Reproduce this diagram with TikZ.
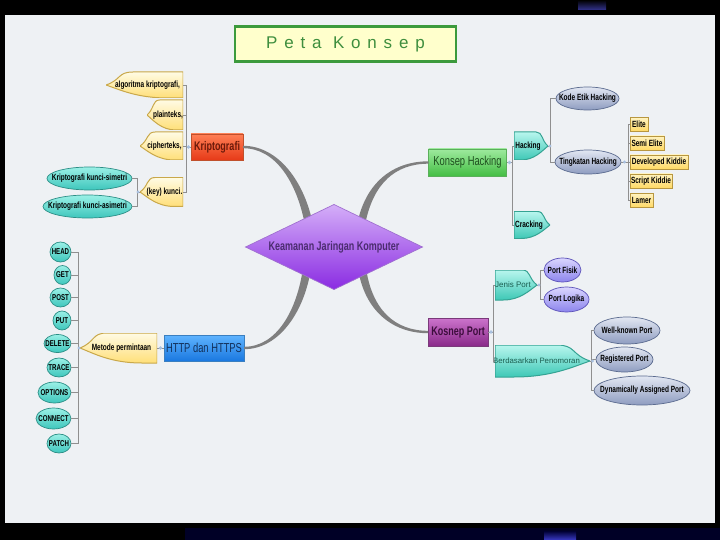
\documentclass[tikz,border=0pt]{standalone}
\usepackage{fontspec}
\setmainfont{Liberation Sans}
\newfontfamily\condfont[FakeStretch=0.72]{Liberation Sans}
\newfontfamily\titlefont[LetterSpace=40]{Liberation Sans}
\usetikzlibrary{shapes.geometric,calc}
\newcommand\ppbb{path picture bounding box}
\definecolor{panel}{HTML}{EEF1F4}
\definecolor{titlefill}{HTML}{FFFFCC}
\definecolor{titleb}{HTML}{3C9A3C}
\definecolor{titletext}{HTML}{3E8E3E}
\definecolor{branchc}{HTML}{7F7F7F}
\definecolor{brc}{HTML}{8F8F8F}
\definecolor{dotblue}{HTML}{A9C1E0}
\definecolor{teal1}{HTML}{9AF0E6}\definecolor{teal2}{HTML}{3EC6BC}\definecolor{tealb}{HTML}{2C8E86}
\definecolor{gray1}{HTML}{E2E7F2}\definecolor{gray2}{HTML}{8E9CC0}\definecolor{grayb}{HTML}{5B6B8F}
\definecolor{lav1}{HTML}{DAD6FF}\definecolor{lav2}{HTML}{8C84EC}\definecolor{lavb}{HTML}{5C52B8}
\definecolor{yl1}{HTML}{FFFBE4}\definecolor{yl2}{HTML}{FFDF78}\definecolor{ylb}{HTML}{C9A84A}
\definecolor{yb1}{HTML}{FFF3C0}\definecolor{yb2}{HTML}{FFD964}\definecolor{ybb}{HTML}{B89740}
\definecolor{cl1}{HTML}{B8F6EE}\definecolor{cl2}{HTML}{3EC8B6}\definecolor{clb}{HTML}{35A393}
\definecolor{krip1}{HTML}{FF7F55}\definecolor{krip2}{HTML}{E63A18}\definecolor{kripb}{HTML}{C0502C}\definecolor{kript}{HTML}{6B1A0A}
\definecolor{hack1}{HTML}{9EEA9E}\definecolor{hack2}{HTML}{44BE44}\definecolor{hackb}{HTML}{5AAF5A}\definecolor{hackt}{HTML}{1F4F1F}
\definecolor{http1}{HTML}{5FB4FF}\definecolor{http2}{HTML}{1A78E0}\definecolor{httpb}{HTML}{3A7FC0}\definecolor{httpt}{HTML}{12305A}
\definecolor{port1}{HTML}{CC74CC}\definecolor{port2}{HTML}{8A2A8A}\definecolor{portb}{HTML}{7A3A7A}\definecolor{portt}{HTML}{3D0D3D}
\definecolor{dia1}{HTML}{D4AEF8}\definecolor{dia2}{HTML}{8A2BE2}\definecolor{diab}{HTML}{A070D0}\definecolor{diat}{HTML}{4B2C6F}
\definecolor{leaftext}{HTML}{1B5E50}
\begin{document}
\begin{tikzpicture}[x=1pt,y=-1pt,
 zw/.style={execute at begin node={\hbox to 0pt\bgroup\hss}, execute at end node={\hss\egroup}},
 zwr/.style={execute at begin node={\hbox to 0pt\bgroup\hss\kern6pt}, execute at end node={\hss\egroup}},
 zwl/.style={execute at begin node={\hbox to 0pt\bgroup\hss}, execute at end node={\kern6pt\hss\egroup}},
 base/.style={inner sep=0pt, outer sep=0pt, text=black},
 small/.style={font=\condfont\bfseries\fontsize{9}{10}\selectfont},
 ell/.style={base, zw, small, ellipse, draw, line width=0.7pt},
 tealell/.style={ell, draw=tealb, top color=teal1, bottom color=teal2},
 methell/.style={tealell, font=\condfont\bfseries\fontsize{8.5}{10}\selectfont},
 grayell/.style={ell, draw=grayb, top color=gray1, bottom color=gray2},
 lavell/.style={ell, draw=lavb, top color=lav1, bottom color=lav2},
 ybox/.style={base, zw, small, rectangle, draw=ybb, line width=0.6pt, top color=yb1, bottom color=yb2, minimum height=14pt},
 mainbox/.style={base, zw, rectangle, line width=0.7pt, font=\condfont\fontsize{13}{15}\selectfont},
 yleaf/.style={base, zwr, small, rectangle,
  path picture={\path[draw=ylb, line width=1pt, top color=yl1, bottom color=yl2]
   (\ppbb.north east) -- ($(\ppbb.north west)!0.35!(\ppbb.north east)$)
   .. controls ($(\ppbb.north west)!0.15!(\ppbb.north east)$) and ($(\ppbb.west)!0.4!(\ppbb.north)$) .. (\ppbb.west)
   .. controls ($(\ppbb.west)!0.35!(\ppbb.south)$) and ($(\ppbb.south west)!0.4!(\ppbb.south east)$) .. ($(\ppbb.south west)!0.8!(\ppbb.south east)$)
   -- (\ppbb.south east) -- cycle;}},
 cleaf/.style={base, zwl, small, rectangle,
  path picture={\path[draw=clb, line width=1pt, top color=cl1, bottom color=cl2]
   (\ppbb.north west) -- ($(\ppbb.north west)!0.65!(\ppbb.north east)$)
   .. controls ($(\ppbb.north west)!0.85!(\ppbb.north east)$) and ($(\ppbb.east)!0.4!(\ppbb.north)$) .. (\ppbb.east)
   .. controls ($(\ppbb.east)!0.35!(\ppbb.south)$) and ($(\ppbb.south west)!0.6!(\ppbb.south east)$) .. ($(\ppbb.south west)!0.2!(\ppbb.south east)$)
   -- (\ppbb.south west) -- cycle;}},
 br/.style={draw=brc, line width=0.7pt},
 dotc/.style={fill=dotblue},
 branch/.style={fill=branchc},
]
\useasboundingbox (0,0) rectangle (720,540);
\fill[black] (0,0) rectangle (720,540);
\shade[top color=black, bottom color=black!40!blue!60!gray] (578,0) rectangle (606,10);
\fill[color=black!85!blue] (185,528) rectangle (720,540);
\shade[top color=black!80!blue, bottom color=blue!55!gray] (544,531) rectangle (576,540);
\fill[panel] (5,15) rectangle (715,523);

% title
\node[draw=titleb, line width=2.5pt, fill=titlefill, minimum width=221pt, minimum height=35pt, inner sep=0pt,
  font=\titlefont\fontsize{17}{20}\selectfont, text=titletext] (title) at (345.5,44) {Peta Konsep};

\coordinate (c0) at (334,247);

% main boxes
\node[mainbox, draw=kripb, top color=krip1, bottom color=krip2, text=kript,
  font=\condfont\bfseries\fontsize{12.5}{14}\selectfont, minimum width=52pt, minimum height=26pt] (kripto) at (217,147) {Kriptografi};
\node[mainbox, draw=hackb, top color=hack1, bottom color=hack2, text=hackt, minimum width=78pt, minimum height=27pt] (hack) at (467.5,162.5) {Konsep Hacking};
\node[mainbox, draw=httpb, top color=http1, bottom color=http2, text=httpt, minimum width=80pt, minimum height=26pt] (http) at (204,348) {HTTP dan HTTPS};
\node[mainbox, draw=portb, top color=port1, bottom color=port2, text=portt,
  font=\condfont\bfseries\fontsize{12.5}{14}\selectfont, minimum width=60pt, minimum height=28pt] (port) at (458,332) {Kosnep Port};

% main branches (tapered)
\fill[branch] ($(kripto.east)+(0,-1.2)$) .. controls +(36,0) and +(-8,-42) .. ($(c0)+(-21,-22)$)
  -- ($(c0)+(-29,-22)$) .. controls +(-8,-42) and +(33,0) .. ($(kripto.east)+(0,1.2)$) -- cycle;
\fill[branch] ($(hack.west)+(0,-1.2)$) .. controls +(-36,0) and +(8,-42) .. ($(c0)+(23,-22)$)
  -- ($(c0)+(31,-22)$) .. controls +(8,-42) and +(-33,0) .. ($(hack.west)+(0,1.2)$) -- cycle;
\fill[branch] ($(http.east)+(0,1.2)$) .. controls +(36,0) and +(-6,42) .. ($(c0)+(-23,21)$)
  -- ($(c0)+(-31,21)$) .. controls +(-6,42) and +(33,0) .. ($(http.east)+(0,-1.2)$) -- cycle;
\fill[branch] ($(port.west)+(0,1.2)$) .. controls +(-36,0) and +(6,42) .. ($(c0)+(24,21)$)
  -- ($(c0)+(32,21)$) .. controls +(6,42) and +(-33,0) .. ($(port.west)+(0,-1.2)$) -- cycle;

% centre
\node[diamond, base, zw, draw=diab, line width=0.7pt, top color=dia1, bottom color=dia2, text=diat,
  minimum width=177pt, minimum height=85pt, font=\condfont\bfseries\fontsize{12.5}{14}\selectfont] (center) at (c0) {Keamanan Jaringan Komputer};

% Kriptografi cluster
\node[yleaf, minimum width=77pt, minimum height=26pt, anchor=east] (alg) at (183,85) {algoritma kriptografi,};
\node[yleaf, minimum width=36pt, minimum height=30pt, anchor=east] (plain) at (183,115) {plainteks,};
\node[yleaf, minimum width=43pt, minimum height=28pt, anchor=east] (cipher) at (183,146) {cipherteks,};
\node[yleaf, minimum width=43pt, minimum height=29pt, anchor=east] (key) at (183,192) {(key) kunci.};
\node[tealell, minimum width=85pt, minimum height=23pt, anchor=east] (sim) at (132,178.5) {Kriptografi kunci-simetri};
\node[tealell, minimum width=89pt, minimum height=23pt, anchor=east] (asim) at (132,206.5) {Kriptografi kunci-asimetri};

% Konsep Hacking cluster
\node[cleaf, minimum width=34pt, minimum height=28pt, anchor=west] (hacking) at (514,146) {Hacking};
\node[cleaf, minimum width=36pt, minimum height=27pt, anchor=west] (cracking) at (514,225) {Cracking};
\node[grayell, minimum width=63pt, minimum height=23pt, anchor=west] (kode) at (556,98.5) {Kode Etik Hacking};
\node[grayell, minimum width=66pt, minimum height=24pt, anchor=west] (tingkat) at (555,162) {Tingkatan Hacking};
\node[ybox, minimum width=18pt, anchor=west] (elite) at (630,124.5) {Elite};
\node[ybox, minimum width=34pt, anchor=west] (semi) at (630,143) {Semi Elite};
\node[ybox, minimum width=58pt, anchor=west] (dev) at (630,162) {Developed Kiddie};
\node[ybox, minimum width=42pt, anchor=west] (script) at (630,181) {Script Kiddie};
\node[ybox, minimum width=23pt, anchor=west] (lamer) at (630,200.5) {Lamer};

% Port cluster
\node[cleaf, minimum width=42pt, minimum height=30pt, anchor=west, font=\fontsize{8}{9}\selectfont, text=leaftext] (jenis) at (495,285) {Jenis Port};
\node[cleaf, minimum width=95pt, minimum height=32pt, anchor=west, font=\fontsize{7.8}{9}\selectfont, text=leaftext] (berd) at (495,361) {\kern-6pt Berdasarkan Penomoran};
\node[lavell, minimum width=37pt, minimum height=24pt, anchor=west] (fisik) at (544,270) {Port Fisik};
\node[lavell, minimum width=45pt, minimum height=25pt, anchor=west] (logika) at (544,299.5) {Port Logika};
\node[grayell, minimum width=66pt, minimum height=27pt, anchor=west] (well) at (594,330.5) {Well-known Port};
\node[grayell, minimum width=57pt, minimum height=25pt, anchor=west] (reg) at (596,359.5) {Registered Port};
\node[grayell, minimum width=96pt, minimum height=29pt, anchor=west] (dyn) at (594,390.5) {Dynamically Assigned Port};

% HTTP cluster
\node[yleaf, minimum width=77pt, minimum height=30pt, anchor=east] (metode) at (157,348) {Metode permintaan};
\node[methell, minimum width=21pt, minimum height=20pt, anchor=east] (head) at (71,252) {HEAD};
\node[methell, minimum width=17pt, minimum height=19pt, anchor=east] (get) at (71,275) {GET};
\node[methell, minimum width=21pt, minimum height=19pt, anchor=east] (post) at (71,297.5) {POST};
\node[methell, minimum width=18pt, minimum height=19pt, anchor=east] (put) at (71,320.5) {PUT};
\node[methell, minimum width=27pt, minimum height=18pt, anchor=east] (delete) at (71,343.5) {DELETE};
\node[methell, minimum width=24pt, minimum height=19pt, anchor=east] (trace) at (71,367.5) {TRACE};
\node[methell, minimum width=33pt, minimum height=21pt, anchor=east] (options) at (71,392.5) {OPTIONS};
\node[methell, minimum width=35pt, minimum height=21pt, anchor=east] (connect) at (71,418.5) {CONNECT};
\node[methell, minimum width=24pt, minimum height=19pt, anchor=east] (patch) at (71,443.5) {PATCH};

% connectors
\coordinate (bk1) at ($(kripto.west)+(-5,0)$);
\draw[br] (kripto.west) -- (bk1);
\foreach \n in {alg,plain,cipher,key} \draw[br] (bk1) |- (\n.east);
\fill[dotc] ($(kripto.west)+(-2.5,0)$) circle (1.8);

\coordinate (bk10) at ($(key.west)+(-3,0)$);
\draw[br] (key.west) -- (bk10);
\foreach \n in {sim,asim} \draw[br] (bk10) |- (\n.east);
\fill[dotc] ($(key.west)+(-2,0)$) circle (1.6);

\coordinate (bk2) at ($(hack.east)+(6,0)$);
\draw[br] (hack.east) -- (bk2);
\foreach \n in {hacking,cracking} \draw[br] (bk2) |- (\n.west);
\fill[dotc] ($(hack.east)+(3,0)$) circle (1.8);

\coordinate (bk3) at ($(hacking.east)+(2,0)$);
\draw[br] (hacking.east) -- (bk3);
\foreach \n in {kode,tingkat} \draw[br] (bk3) |- (\n.west);
\fill[dotc] ($(hacking.east)+(2,0)$) circle (1.6);

\coordinate (bk4) at ($(tingkat.east)+(7,0)$);
\draw[br] (tingkat.east) -- (bk4);
\foreach \n in {elite,semi,dev,script,lamer} \draw[br] (bk4) |- (\n.west);
\fill[dotc] ($(tingkat.east)+(3.5,0)$) circle (1.6);

\coordinate (bk5) at ($(port.east)+(5,0)$);
\draw[br] (port.east) -- (bk5);
\foreach \n in {jenis,berd} \draw[br] (bk5) |- (\n.west);
\fill[dotc] ($(port.east)+(3,0)$) circle (1.8);

\coordinate (bk6) at ($(jenis.east)+(3,0)$);
\draw[br] (jenis.east) -- (bk6);
\foreach \n in {fisik,logika} \draw[br] (bk6) |- (\n.west);
\fill[dotc] ($(jenis.east)+(2,0)$) circle (1.6);

\coordinate (bk7) at ($(berd.east)+(1.5,0)$);
\draw[br] (berd.east) -- (bk7);
\foreach \n in {well,reg,dyn} \draw[br] (bk7) |- (\n.west);
\fill[dotc] ($(berd.east)+(2.5,0)$) circle (1.6);

\draw[br] (http.west) -- (metode.east);
\fill[dotc] ($(http.west)+(-3.5,0)$) circle (1.8);

\coordinate (bk9) at ($(metode.west)+(-2,0)$);
\draw[br] (metode.west) -- (bk9);
\foreach \n in {head,get,post,put,delete,trace,options,connect,patch} \draw[br] (bk9) |- (\n.east);
\fill[dotc] ($(metode.west)+(-1,0)$) circle (1.6);
\end{tikzpicture}
\end{document}
